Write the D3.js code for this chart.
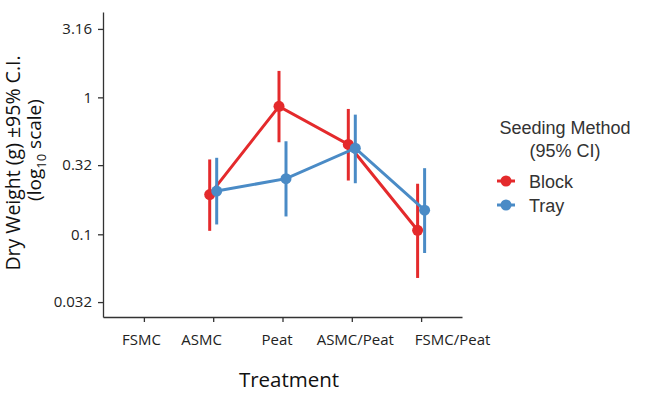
<!DOCTYPE html>
<html lang="en">
<head>
  <meta charset="UTF-8">
  <title>Dry Weight by Treatment</title>
  <script src="https://d3js.org/d3.v7.min.js"></script>
  <style>
    body { margin: 0; background: #fff; }
    .tick text { font-family: "Open Sans", "Noto Sans", sans-serif; fill: #222; }
    .xaxis .tick text { font-size: 15px; }
    .yaxis .tick text { font-size: 15px; }
    .domain, .tick line { stroke: #333; stroke-width: 1.3px; }
  </style>
</head>
<body>
  <div id="chart"></div>
  <script>
    // data
    const treatments = ['FSMC', 'ASMC', 'Peat', 'ASMC/Peat', 'FSMC/Peat'];
    const methods = ['Block', 'Tray'];
    const colors = ['#e42a2c', '#4a8bc6'];

    // means and 95% CI bounds (null = no data)
    const blockMean = [null, 0.195, 0.86, 0.453, 0.107];
    const blockLow  = [null, 0.106, 0.47, 0.247, 0.048];
    const blockHigh = [null, 0.352, 1.56, 0.823, 0.234];
    const trayMean  = [null, 0.207, 0.255, 0.425, 0.150];
    const trayLow   = [null, 0.118, 0.135, 0.236, 0.073];
    const trayHigh  = [null, 0.362, 0.478, 0.748, 0.304];

    const yTicks = [0.032, 0.1, 0.32, 1, 3.16];

    // the original labels were nudged off their ticks
    const labelShift = {'FSMC': -3, 'ASMC': -12, 'Peat': -6, 'ASMC/Peat': 3, 'FSMC/Peat': 31};

    const width = 664, height = 396;
    const margin = {left: 103, right: 202, top: 12, bottom: 79};

    const svg = d3.select('#chart').append('svg')
      .attr('width', width).attr('height', height);

    const x = d3.scalePoint().domain(treatments)
      .range([margin.left, width - margin.right]).padding(0.59);
    const y = d3.scaleLog().domain([0.0249, 4.2])
      .range([height - margin.bottom, margin.top]);

    svg.append('g').attr('class', 'xaxis')
      .attr('transform', `translate(0,${height - margin.bottom})`)
      .call(d3.axisBottom(x).tickSizeInner(5).tickSizeOuter(0).tickPadding(12))
      .selectAll('.tick text').attr('dx', d => labelShift[d]);

    svg.append('g').attr('class', 'yaxis')
      .attr('transform', `translate(${margin.left},0)`)
      .call(d3.axisLeft(y).tickValues(yTicks).tickFormat(d => d)
        .tickSizeInner(5).tickSizeOuter(0).tickPadding(6));

    const series = [
      {name: methods[0], color: colors[0], dx: -3.5, mean: blockMean, lo: blockLow, hi: blockHigh},
      {name: methods[1], color: colors[1], dx: 3.5, mean: trayMean, lo: trayLow, hi: trayHigh}
    ];

    series.forEach(s => {
      const pts = treatments.map((t, i) => ({t, m: s.mean[i], lo: s.lo[i], hi: s.hi[i]}))
        .filter(d => d.m !== null);
      const g = svg.append('g');
      g.append('path')
        .datum(pts)
        .attr('fill', 'none')
        .attr('stroke', s.color)
        .attr('stroke-width', 3)
        .attr('d', d3.line().x(d => x(d.t) + s.dx).y(d => y(d.m)));
      g.selectAll('.err').data(pts).enter().append('line')
        .attr('stroke', s.color).attr('stroke-width', 3)
        .attr('x1', d => x(d.t) + s.dx).attr('x2', d => x(d.t) + s.dx)
        .attr('y1', d => y(d.lo)).attr('y2', d => y(d.hi));
      g.selectAll('circle').data(pts).enter().append('circle')
        .attr('fill', s.color).attr('r', 5.5)
        .attr('cx', d => x(d.t) + s.dx).attr('cy', d => y(d.m));
    });

    // axis titles
    svg.append('text')
      .attr('x', 289).attr('y', 387)
      .attr('text-anchor', 'middle')
      .style('font-family', '"Open Sans", "Noto Sans", sans-serif')
      .style('font-size', '20.5px').attr('fill', '#111')
      .text('Treatment');

    const font = '"Open Sans", "Noto Sans", sans-serif';
    svg.append('text')
      .attr('transform', 'translate(20,163) rotate(-90)')
      .attr('text-anchor', 'middle')
      .style('font-family', font).style('font-size', '19.5px').attr('fill', '#111')
      .text('Dry Weight (g) ±95% C.I.');
    const l2 = svg.append('text')
      .attr('transform', 'translate(41,150) rotate(-90)')
      .attr('text-anchor', 'middle')
      .style('font-family', font).style('font-size', '19px').attr('fill', '#111');
    l2.append('tspan').text('(log');
    l2.append('tspan').attr('dy', 5).style('font-size', '13px').text('10');
    l2.append('tspan').attr('dy', -5).text(' scale)');

    // legend
    const leg = svg.append('g').style('font-family', '"Liberation Sans", Arial, sans-serif');
    leg.append('text').attr('x', 565).attr('y', 134).attr('text-anchor', 'middle')
      .style('font-size', '18px').attr('fill', '#333').text('Seeding Method');
    leg.append('text').attr('x', 565).attr('y', 157).attr('text-anchor', 'middle')
      .style('font-size', '18px').attr('fill', '#333').text('(95% CI)');
    methods.forEach((m, i) => {
      const ly = 181 + i * 24;
      leg.append('line').attr('x1', 497).attr('x2', 515).attr('y1', ly).attr('y2', ly)
        .attr('stroke', colors[i]).attr('stroke-width', 3);
      leg.append('circle').attr('cx', 506).attr('cy', ly).attr('r', 5.5).attr('fill', colors[i]);
      leg.append('text').attr('x', 529).attr('y', ly + 6.5)
        .style('font-size', '18px').attr('fill', '#333').text(m);
    });
  </script>
</body>
</html>
